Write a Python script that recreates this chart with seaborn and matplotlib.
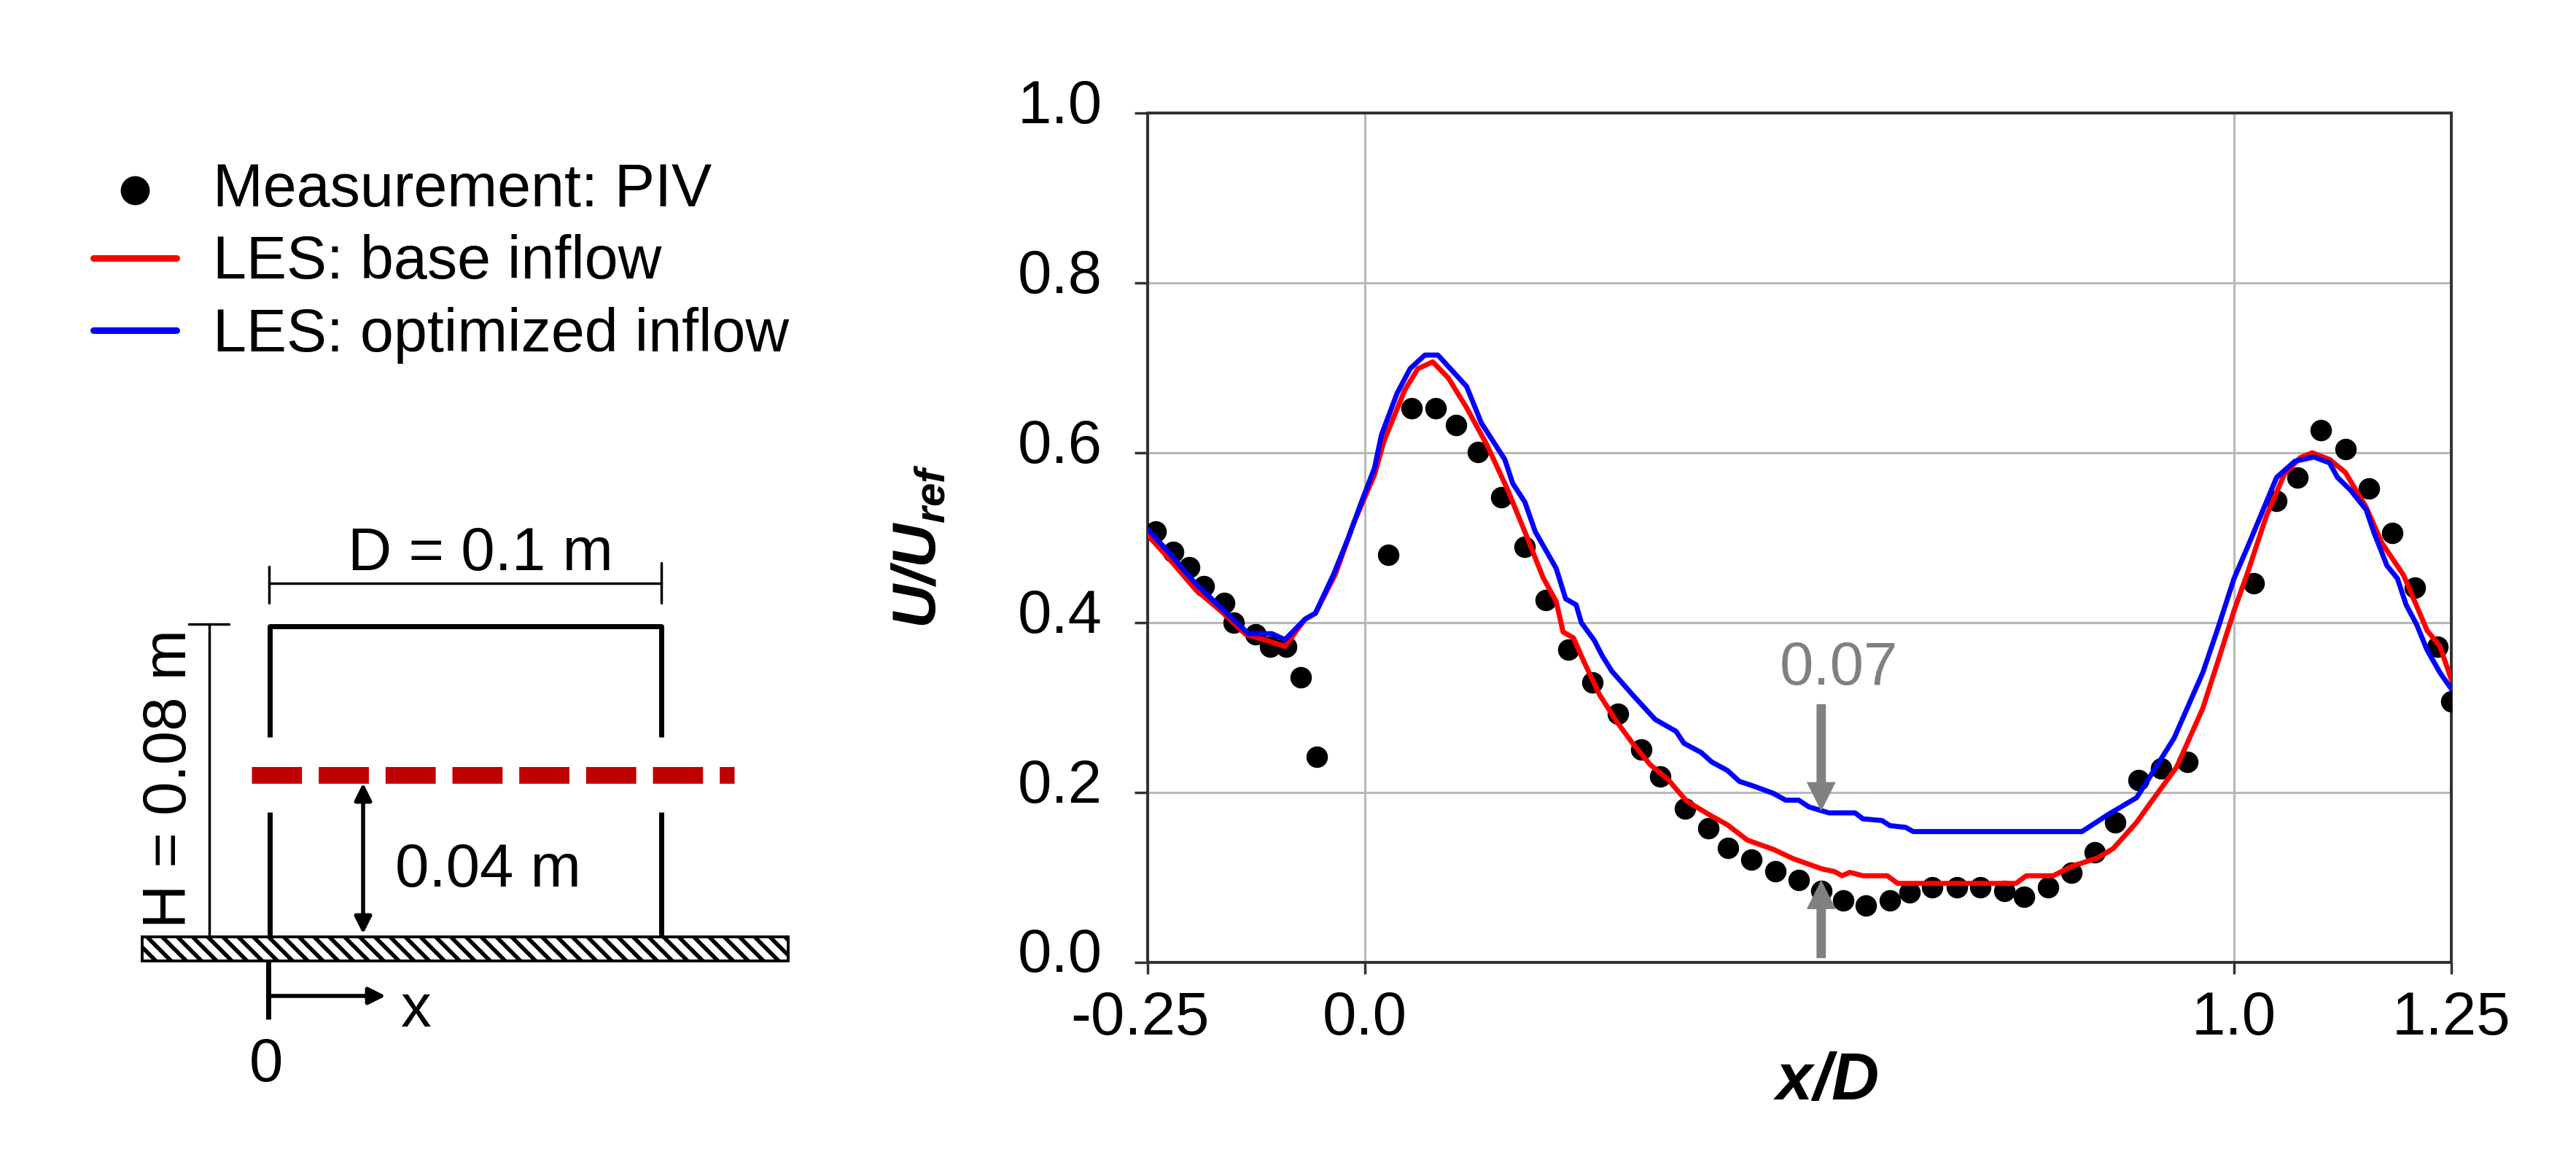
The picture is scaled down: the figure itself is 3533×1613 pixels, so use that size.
import matplotlib
matplotlib.use("Agg")
import matplotlib.pyplot as plt
import matplotlib.transforms as mtrans
import numpy as np
import pandas as pd
import seaborn as sns
from matplotlib.patches import Rectangle

# PIV measurement points
piv_x = [-0.241, -0.221, -0.202, -0.185, -0.162, -0.151, -0.126, -0.109, -0.091, -0.074, -0.055,
         0.027, 0.054, 0.081, 0.105, 0.130, 0.157, 0.184, 0.208, 0.234, 0.262, 0.291, 0.318, 0.340,
         0.368, 0.395, 0.418, 0.445, 0.472, 0.499, 0.525, 0.550, 0.576, 0.604, 0.627, 0.653, 0.681,
         0.708, 0.736, 0.758, 0.786, 0.813, 0.840, 0.863, 0.890, 0.916, 0.946, 1.023, 1.049, 1.073,
         1.100, 1.128, 1.155, 1.182, 1.208, 1.234, 1.250]
piv_y = [0.507, 0.483, 0.465, 0.443, 0.423, 0.400, 0.386, 0.372, 0.372, 0.336, 0.242,
         0.480, 0.652, 0.652, 0.633, 0.601, 0.548, 0.489, 0.427, 0.368, 0.330, 0.293, 0.251, 0.219,
         0.181, 0.158, 0.135, 0.121, 0.107, 0.097, 0.084, 0.073, 0.067, 0.073, 0.082, 0.088, 0.088,
         0.088, 0.084, 0.077, 0.088, 0.106, 0.130, 0.165, 0.215, 0.228, 0.236, 0.446, 0.543, 0.571,
         0.627, 0.604, 0.558, 0.506, 0.441, 0.372, 0.307]

# LES base inflow
base_x = [-0.250, -0.225, -0.195, -0.166, -0.137, -0.113, -0.092, -0.069, -0.057, -0.034, -0.013,
          0.011, 0.022, 0.046, 0.061, 0.078, 0.096, 0.117, 0.140, 0.164, 0.184, 0.205, 0.220, 0.228,
          0.240, 0.252, 0.270, 0.290, 0.308, 0.328, 0.349, 0.370, 0.396, 0.417, 0.440, 0.470, 0.493,
          0.526, 0.540, 0.549, 0.558, 0.573, 0.601, 0.613, 0.749, 0.761, 0.792, 0.813, 0.843, 0.861,
          0.888, 0.904, 0.934, 0.964, 0.982, 1.000, 1.016, 1.037, 1.058, 1.076, 1.090, 1.110, 1.128,
          1.152, 1.170, 1.195, 1.222, 1.237, 1.250]
base_y = [0.503, 0.475, 0.439, 0.414, 0.386, 0.379, 0.372, 0.404, 0.411, 0.457, 0.517,
          0.574, 0.614, 0.674, 0.699, 0.707, 0.688, 0.653, 0.610, 0.557, 0.507, 0.453, 0.425, 0.389,
          0.382, 0.354, 0.315, 0.283, 0.258, 0.233, 0.215, 0.190, 0.174, 0.162, 0.144, 0.133, 0.122,
          0.110, 0.107, 0.102, 0.106, 0.102, 0.102, 0.093, 0.093, 0.102, 0.102, 0.113, 0.123, 0.134,
          0.165, 0.188, 0.230, 0.299, 0.356, 0.414, 0.460, 0.525, 0.575, 0.594, 0.600, 0.592, 0.577,
          0.536, 0.494, 0.456, 0.391, 0.372, 0.333]

# LES optimized inflow
opt_x = [-0.250, -0.225, -0.195, -0.166, -0.134, -0.107, -0.092, -0.069, -0.057, -0.036, -0.019,
         -0.004, 0.011, 0.019, 0.037, 0.052, 0.069, 0.084, 0.117, 0.134, 0.161, 0.170, 0.184, 0.196,
         0.220, 0.231, 0.243, 0.249, 0.264, 0.273, 0.284, 0.308, 0.334, 0.358, 0.367, 0.387, 0.399,
         0.417, 0.431, 0.446, 0.470, 0.484, 0.499, 0.511, 0.534, 0.564, 0.573, 0.595, 0.604, 0.622,
         0.631, 0.825, 0.855, 0.888, 0.901, 0.931, 0.964, 0.982, 1.000, 1.016, 1.049, 1.070, 1.092,
         1.110, 1.119, 1.134, 1.152, 1.161, 1.176, 1.188, 1.198, 1.210, 1.222, 1.237, 1.250]
opt_y = [0.510, 0.482, 0.446, 0.418, 0.387, 0.387, 0.380, 0.404, 0.411, 0.457, 0.500,
         0.542, 0.582, 0.621, 0.670, 0.699, 0.715, 0.715, 0.678, 0.635, 0.592, 0.564, 0.542, 0.507,
         0.464, 0.428, 0.421, 0.400, 0.379, 0.361, 0.343, 0.315, 0.286, 0.272, 0.258, 0.247, 0.236,
         0.226, 0.213, 0.208, 0.199, 0.191, 0.191, 0.183, 0.176, 0.176, 0.169, 0.167, 0.161, 0.159,
         0.154, 0.154, 0.174, 0.194, 0.215, 0.264, 0.341, 0.395, 0.452, 0.490, 0.571, 0.590, 0.595,
         0.588, 0.571, 0.556, 0.533, 0.506, 0.467, 0.452, 0.421, 0.398, 0.368, 0.341, 0.322]

x_ticks = [-0.25, 0.0, 1.0, 1.25]
x_tick_labels = ["-0.25", "0.0", "1.0", "1.25"]
y_ticks = [0.0, 0.2, 0.4, 0.6, 0.8, 1.0]
gap_x = 0.525
gap_upper = 0.178
gap_lower = 0.097

sns.set_style("white")
plt.rcParams["font.family"] = ["Liberation Sans", "DejaVu Sans"]
plt.rcParams["text.color"] = "black"
plt.rcParams["axes.labelcolor"] = "black"
plt.rcParams["xtick.color"] = "black"
plt.rcParams["ytick.color"] = "black"
plt.rcParams["mathtext.fontset"] = "custom"
plt.rcParams["mathtext.bfit"] = "Liberation Sans:italic:bold"
plt.rcParams["mathtext.rm"] = "Liberation Sans"
plt.rcParams["hatch.linewidth"] = 1.6

W, H = 3533, 1613
fig = plt.figure(figsize=(W / 250, H / 250), dpi=250)
FS = 24

# main chart
ax = fig.add_axes([1574 / W, 1 - 1320 / H, 1788 / W, 1165 / H])
sns.scatterplot(x=piv_x, y=piv_y, color="black", s=72, linewidth=0, ax=ax,
                label="Measurement: PIV", zorder=3)
sns.lineplot(data=pd.DataFrame({"x": base_x, "y": base_y}), x="x", y="y", color="#ff0000",
             lw=2.0, ax=ax, label="LES: base inflow", zorder=4, estimator=None, sort=False)
sns.lineplot(data=pd.DataFrame({"x": opt_x, "y": opt_y}), x="x", y="y", color="#0000ff",
             lw=2.0, ax=ax, label="LES: optimized inflow", zorder=5, estimator=None, sort=False)

ax.set_xlim(-0.25, 1.25)
ax.set_ylim(0, 1)
ax.set_xticks(x_ticks)
ax.set_xticklabels(x_tick_labels)
ax.set_yticks(y_ticks)
ax.set_yticklabels([f"{v:.1f}" for v in y_ticks])
ax.grid(True, color="#b8b8b8", lw=0.9)
ax.set_axisbelow(True)
ax.tick_params(axis="x", direction="out", length=4.6, width=1, color="#333333", labelsize=FS, pad=6.4, bottom=True)
ax.tick_params(axis="y", direction="out", length=5.2, width=1, color="#333333", labelsize=FS, pad=12.7, left=True)
for s in ax.spines.values():
    s.set_color("#333333")
    s.set_linewidth(1.15)

# the reference's labels sit a little off their ticks
up = mtrans.ScaledTranslation(0, 17 / 250, fig.dpi_scale_trans)
for lbl in ax.get_yticklabels():
    lbl.set_transform(lbl.get_transform() + up)
left = mtrans.ScaledTranslation(-11 / 250, 0, fig.dpi_scale_trans)
first = ax.get_xticklabels()[0]
first.set_transform(first.get_transform() + left)

ax.set_xlabel(r"$\mathbfit{x/D}$", fontsize=26)
ax.set_ylabel(r"$\mathbfit{U/U_{ref}}$", fontsize=FS)
ax.xaxis.set_label_coords(0.52, -0.105)
ax.yaxis.set_label_coords(-0.153, 0.49)

# gap annotation
gap_style = dict(width=3.7, headwidth=11.5, headlength=11.5, color="#808080", lw=0, shrink=0)
ax.annotate("", xy=(gap_x, gap_upper), xytext=(gap_x, 0.304), arrowprops=gap_style, zorder=6)
ax.annotate("", xy=(gap_x, gap_lower), xytext=(gap_x, 0.005), arrowprops=gap_style, zorder=6)
ax.text(0.545, 0.346, "0.07", color="#808080", fontsize=FS, ha="center", va="center", zorder=6)

# legend at the far left
handles, labels = ax.get_legend_handles_labels()
if ax.get_legend():
    ax.get_legend().remove()
leg = fig.legend(handles, labels, loc="upper left", bbox_to_anchor=(128 / W, 1 - 222 / H), frameon=False,
                 fontsize=23.8, handlelength=1.38, handletextpad=0.6, labelspacing=0.26, markerscale=1.35,
                 borderpad=0, borderaxespad=0)
for line in leg.get_lines():
    line.set_linewidth(2.6)

# schematic, drawn in pixel coordinates of the figure
sk = fig.add_axes([0, 0, 1, 1], facecolor="none")
sk.set_xlim(0, W)
sk.set_ylim(H, 0)
sk.axis("off")
wall = 2.0
thin = 1.0

sk.add_patch(Rectangle((195, 1285), 886, 33, fc="white", ec="black", lw=1.1, hatch="\\\\\\\\"))
sk.plot([370, 370, 907, 907], [1011, 859, 859, 1011], color="black", lw=wall, solid_capstyle="butt")
sk.plot([370, 370], [1114, 1285], color="black", lw=wall, solid_capstyle="butt")
sk.plot([907, 907], [1114, 1285], color="black", lw=wall, solid_capstyle="butt")
sk.plot([345, 1007], [1063, 1063], color="#c00000", lw=6.6, linestyle=(0, (3, 1)), dash_capstyle="butt")

sk.plot([369, 907], [800, 800], color="black", lw=thin)
sk.plot([369, 369], [777, 827], color="black", lw=thin)
sk.plot([907, 907], [772, 827], color="black", lw=thin)
sk.text(659, 760, "D = 0.1 m", fontsize=FS, ha="center", va="center")

sk.plot([287, 287], [856, 1285], color="black", lw=thin)
sk.plot([259, 314], [856, 856], color="black", lw=thin)
sk.text(233, 1068, "H = 0.08 m", fontsize=FS, rotation=90, ha="center", va="center")

sk.annotate("", xy=(498, 1074), xytext=(498, 1281),
            arrowprops=dict(arrowstyle="<|-|>", color="black", lw=1.6, shrinkA=0, shrinkB=0, mutation_scale=14))
sk.text(542, 1194, "0.04 m", fontsize=FS, ha="left", va="center")

sk.plot([368, 368], [1318, 1398], color="black", lw=wall, solid_capstyle="butt")
sk.annotate("", xy=(529, 1366), xytext=(368, 1366),
            arrowprops=dict(arrowstyle="-|>", color="black", lw=1.6, shrinkA=0, shrinkB=0, mutation_scale=14))
sk.text(570, 1386, "x", fontsize=FS, ha="center", va="center")
sk.text(365, 1461, "0", fontsize=FS, ha="center", va="center")

fig.savefig("out.png", dpi=250, facecolor="white")
